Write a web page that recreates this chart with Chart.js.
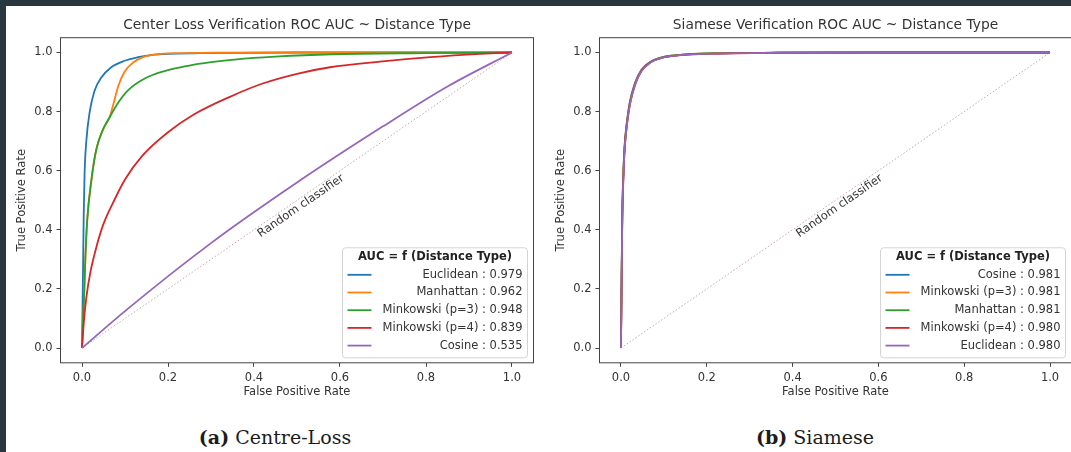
<!DOCTYPE html>
<html>
<head>
<meta charset="utf-8">
<script src="https://cdn.jsdelivr.net/npm/chart.js@4.4.0/dist/chart.umd.min.js"></script>
<style>
  html, body { margin: 0; padding: 0; background: #fff; overflow: hidden; }
  body { width: 1071px; height: 452px; position: relative; }
  .bar-top { position: absolute; left: 0; top: 0; width: 1071px; height: 6px; background: #29373e; z-index: 2; }
  .bar-left { position: absolute; left: 0; top: 0; width: 6px; height: 452px; background: #29373e; z-index: 2; }
  canvas { position: absolute; top: 0; }
  #roc1 { left: 0; }
  #roc2 { left: 540px; }
  .caption { position: absolute; top: 426px; font-family: "DejaVu Serif", serif; font-size: 19px; color: #1c1c1c; transform: translateX(-50%); white-space: nowrap; }
</style>
</head>
<body>
<div class="bar-top"></div>
<div class="bar-left"></div>
<canvas id="roc1" width="545" height="420"></canvas>
<canvas id="roc2" width="545" height="420"></canvas>
<div class="caption" style="left:275px"><b>(a)</b>&nbsp;Centre-Loss</div>
<div class="caption" style="left:815px"><b>(b)</b>&nbsp;Siamese</div>
<script>
// ===== data =====
const rateTicks = [0, 0.2, 0.4, 0.6, 0.8, 1.0];
const colors = ['#1f77b4', '#ff7f0e', '#2ca02c', '#d62728', '#9467bd'];

// center loss curves
const clNames = ['Euclidean', 'Manhattan', 'Minkowski (p=3)', 'Minkowski (p=4)', 'Cosine'];
const clAuc = ['0.979', '0.962', '0.948', '0.839', '0.535'];
const clFprEuclidean = [0, 0.002, 0.004, 0.006, 0.010, 0.018, 0.029, 0.045, 0.068, 0.099, 0.13, 0.16, 0.2, 0.3, 0.5, 1.0];
const clTprEuclidean = [0, 0.22, 0.45, 0.59, 0.70, 0.80, 0.87, 0.915, 0.950, 0.972, 0.984, 0.991, 0.995, 0.998, 1.0, 1.0];
const clFprManhattan = [0, 0.002, 0.005, 0.008, 0.012, 0.022, 0.033, 0.049, 0.064, 0.072, 0.084, 0.099, 0.119, 0.142, 0.169, 0.2, 0.3, 0.5, 1.0];
const clTprManhattan = [0, 0.08, 0.18, 0.31, 0.43, 0.57, 0.67, 0.74, 0.78, 0.82, 0.885, 0.935, 0.966, 0.984, 0.993, 0.997, 0.999, 1.0, 1.0];
const clFprMink3 = [0, 0.002, 0.005, 0.008, 0.012, 0.022, 0.033, 0.049, 0.064, 0.084, 0.107, 0.146, 0.192, 0.247, 0.30, 0.36, 0.45, 0.58, 0.8, 1.0];
const clTprMink3 = [0, 0.08, 0.18, 0.31, 0.43, 0.57, 0.67, 0.74, 0.78, 0.83, 0.872, 0.912, 0.937, 0.955, 0.967, 0.977, 0.986, 0.994, 0.998, 1.0];
const clFprMink4 = [0, 0.005, 0.01, 0.02, 0.035, 0.05, 0.075, 0.1, 0.14, 0.2, 0.26, 0.344, 0.42, 0.5, 0.577, 0.693, 0.81, 0.926, 1.0];
const clTprMink4 = [0, 0.10, 0.17, 0.26, 0.35, 0.42, 0.50, 0.57, 0.65, 0.73, 0.79, 0.85, 0.895, 0.928, 0.95, 0.969, 0.984, 0.995, 1.0];
const clFprCosine = [0, 0.1, 0.3, 0.5, 0.7, 0.85, 1.0];
const clTprCosine = [0, 0.125, 0.355, 0.56, 0.75, 0.885, 1.0];

// siamese curves
const siNames = ['Cosine', 'Minkowski (p=3)', 'Manhattan', 'Minkowski (p=4)', 'Euclidean'];
const siAuc = ['0.981', '0.981', '0.981', '0.980', '0.980'];
const siFpr = [0, 0.001, 0.002, 0.003, 0.005, 0.007, 0.009, 0.013, 0.021, 0.033, 0.048, 0.068, 0.099, 0.138, 0.215, 0.37, 0.6, 1.0];
const siTprCosine = [0, 0.16, 0.31, 0.45, 0.57, 0.645, 0.695, 0.755, 0.835, 0.898, 0.942, 0.968, 0.985, 0.992, 0.997, 0.999, 1.0, 1.0];
const siTprMink3 = [0, 0.15, 0.30, 0.44, 0.565, 0.64, 0.69, 0.752, 0.832, 0.896, 0.941, 0.967, 0.984, 0.992, 0.997, 0.999, 1.0, 1.0];
const siTprManhattan = [0, 0.15, 0.30, 0.44, 0.56, 0.64, 0.69, 0.75, 0.83, 0.895, 0.940, 0.967, 0.984, 0.992, 0.997, 0.999, 1.0, 1.0];
const siTprMink4 = [0, 0.14, 0.29, 0.43, 0.55, 0.63, 0.683, 0.745, 0.826, 0.892, 0.938, 0.966, 0.983, 0.991, 0.996, 0.999, 1.0, 1.0];
const siTprEuclidean = [0, 0.14, 0.28, 0.42, 0.545, 0.625, 0.68, 0.742, 0.824, 0.891, 0.937, 0.965, 0.983, 0.991, 0.996, 0.999, 1.0, 1.0];

const diagonal = [0, 1];

// ===== helpers =====
Chart.defaults.font.family = '"DejaVu Sans", sans-serif';
Chart.defaults.color = '#333';

function points(fpr, tpr) {
    return fpr.map((x, i) => ({x: x, y: tpr[i]}));
}

// later curves sit on top, like matplotlib
function rocSet(i, name, auc, fpr, tpr) {
    return {
        label: name + ' : ' + auc,
        data: points(fpr, tpr),
        borderColor: colors[i],
        backgroundColor: colors[i],
        borderWidth: 1.8,
        pointRadius: 0,
        cubicInterpolationMode: 'monotone',
        showLine: true,
        order: 10 - i
    };
}

function randomSet() {
    return {
        label: 'Random classifier',
        skipLegend: true,
        data: points(diagonal, diagonal),
        borderColor: 'rgba(140, 86, 75, 0.5)',
        borderWidth: 1,
        borderDash: [1.5, 2],
        pointRadius: 0,
        showLine: true,
        order: 20
    };
}

// title, frame, random classifier text and the AUC legend
const rocDecor = {
    id: 'rocDecor',
    afterDatasetsDraw(chart, args, opts) {
        const {ctx, chartArea: a, scales: {x, y}} = chart;
        ctx.save();
        // box around the axes
        ctx.strokeStyle = '#444';
        ctx.lineWidth = 1;
        ctx.strokeRect(a.left, a.top, a.right - a.left, a.bottom - a.top);

        // title centred on the axes
        ctx.fillStyle = '#333';
        ctx.font = '13.8px "DejaVu Sans"';
        ctx.textAlign = 'center';
        ctx.textBaseline = 'middle';
        ctx.fillText(opts.heading, (a.left + a.right) / 2, 25);

        // random classifier label along the diagonal
        const x0 = x.getPixelForValue(0), y0 = y.getPixelForValue(0);
        const x1 = x.getPixelForValue(1), y1 = y.getPixelForValue(1);
        const ang = Math.atan2(y1 - y0, x1 - x0);
        ctx.translate(x.getPixelForValue(0.5) + 7 * Math.sin(-ang), y.getPixelForValue(0.5) + 7 * Math.cos(ang));
        ctx.rotate(ang);
        ctx.font = '11.5px "DejaVu Sans"';
        ctx.fillText('Random classifier', 0, 0);
        ctx.setTransform(1, 0, 0, 1, 0, 0);

        // legend
        const items = chart.data.datasets.filter(d => !d.skipLegend);
        const w = 185, h = 110, rowH = 17.7;
        const right = a.right - 6, bottom = a.bottom - 5;
        const left = right - w, top = bottom - h;
        ctx.beginPath();
        ctx.roundRect(left, top, w, h, 3);
        ctx.fillStyle = 'rgba(255,255,255,0.85)';
        ctx.fill();
        ctx.strokeStyle = '#d4d4d4';
        ctx.stroke();
        ctx.fillStyle = '#222';
        ctx.font = 'bold 11.5px "DejaVu Sans"';
        ctx.fillText(opts.legendTitle, left + w / 2, top + 9.5);
        ctx.font = '11.5px "DejaVu Sans"';
        ctx.textAlign = 'right';
        items.forEach((d, i) => {
            const yy = top + 27 + i * rowH;
            ctx.strokeStyle = d.borderColor;
            ctx.lineWidth = 1.8;
            ctx.beginPath();
            ctx.moveTo(left + 5, yy);
            ctx.lineTo(left + 29, yy);
            ctx.stroke();
            ctx.fillStyle = '#333';
            ctx.fillText(d.label, right - 5, yy);
        });
        ctx.restore();
    }
};

function rocChart(id, title, datasets, yWidth, padRight, yTitlePad) {
    const tickGrid = {drawOnChartArea: false, drawTicks: true, tickLength: 4, tickColor: '#444', tickWidth: 1};
    return new Chart(document.getElementById(id), {
        type: 'scatter',
        data: {datasets: datasets},
        plugins: [rocDecor],
        options: {
            responsive: false,
            animation: false,
            layout: {padding: {left: 0, right: padRight, top: 37.7, bottom: 12.2}},
            plugins: {
                legend: {display: false},
                tooltip: {enabled: false},
                title: {display: false},
                rocDecor: {heading: title, legendTitle: 'AUC = f (Distance Type)'}
            },
            scales: {
                x: {
                    type: 'linear',
                    min: -0.05,
                    max: 1.05,
                    afterBuildTicks: s => { s.ticks = rateTicks.map(v => ({value: v})); },
                    afterFit: s => { s.height = 45; },
                    grid: tickGrid,
                    border: {display: false},
                    ticks: {padding: 4, maxRotation: 0, font: {size: 11.5}, color: '#333', callback: v => v.toFixed(1)},
                    title: {display: true, text: 'False Positive Rate', color: '#333', font: {size: 11.5}, padding: {top: 0, bottom: 8.9}}
                },
                y: {
                    type: 'linear',
                    min: -0.05,
                    max: 1.05,
                    afterBuildTicks: s => { s.ticks = rateTicks.map(v => ({value: v})); },
                    afterFit: s => { s.width = yWidth; },
                    grid: tickGrid,
                    border: {display: false},
                    ticks: {padding: 4, font: {size: 11.5}, color: '#333', callback: v => v.toFixed(1)},
                    title: {display: true, text: 'True Positive Rate', color: '#333', font: {size: 11.5}, padding: {top: yTitlePad, bottom: 0}}
                }
            }
        }
    });
}

// ===== center loss =====
rocChart('roc1', 'Center Loss Verification ROC AUC ~ Distance Type', [
    rocSet(0, clNames[0], clAuc[0], clFprEuclidean, clTprEuclidean),
    rocSet(1, clNames[1], clAuc[1], clFprManhattan, clTprManhattan),
    rocSet(2, clNames[2], clAuc[2], clFprMink3, clTprMink3),
    rocSet(3, clNames[3], clAuc[3], clFprMink4, clTprMink4),
    rocSet(4, clNames[4], clAuc[4], clFprCosine, clTprCosine),
    randomSet()
], 60.5, 11.5, 15);

// ===== siamese =====
rocChart('roc2', 'Siamese Verification ROC AUC ~ Distance Type', [
    rocSet(0, siNames[0], siAuc[0], siFpr, siTprCosine),
    rocSet(1, siNames[1], siAuc[1], siFpr, siTprMink3),
    rocSet(2, siNames[2], siAuc[2], siFpr, siTprManhattan),
    rocSet(3, siNames[3], siAuc[3], siFpr, siTprMink4),
    rocSet(4, siNames[4], siAuc[4], siFpr, siTprEuclidean),
    randomSet()
], 59.5, 13.5, 14);
</script>
</body>
</html>
